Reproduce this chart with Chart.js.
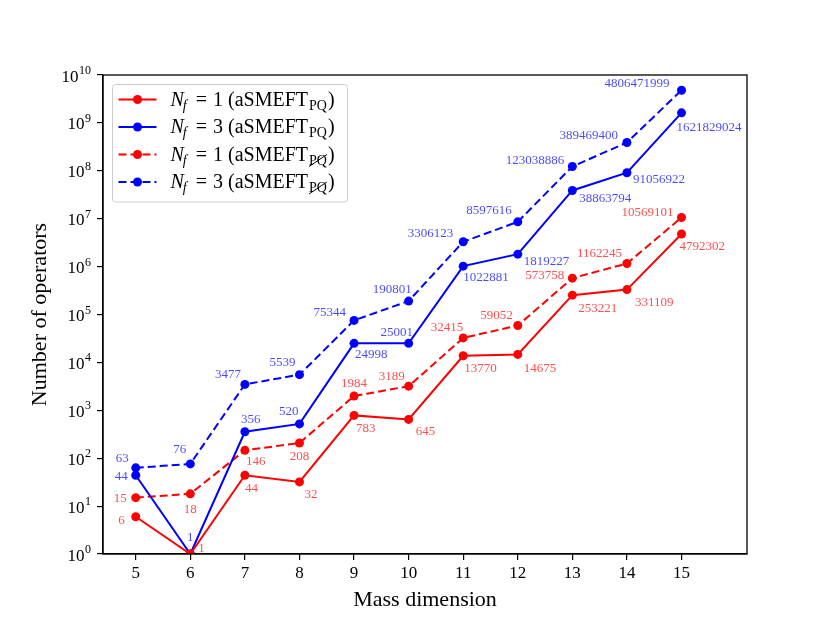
<!DOCTYPE html>
<html>
<head>
<meta charset="utf-8">
<script src="https://cdn.jsdelivr.net/npm/chart.js@4.4.0/dist/chart.umd.min.js"></script>
<style>
  html, body { margin: 0; padding: 0; background: #fff; }
</style>
</head>
<body>
<canvas id="opsChart" width="830" height="623"></canvas>
<script>
// mass dimensions on the x axis
const massDims = [5, 6, 7, 8, 9, 10, 11, 12, 13, 14, 15];
// operator counts per series
const nf1PQ = [6, 1, 44, 32, 783, 645, 13770, 14675, 253221, 331109, 4792302];
const nf3PQ = [44, 1, 356, 520, 24998, 25001, 1022881, 1819227, 38863794, 91056922, 1621829024];
const nf1PQbar = [15, 18, 146, 208, 1984, 3189, 32415, 59052, 573758, 1162245, 10569101];
const nf3PQbar = [63, 76, 3477, 5539, 75344, 190801, 3306123, 8597616, 123038886, 389469400, 4806471999];
// y tick labels are powers of ten
const yPowers = [0, 1, 2, 3, 4, 5, 6, 7, 8, 9, 10];

// where each number label sits relative to its marker: [dx, dy, align]
const placeNf1PQ = [[-11,4,'right'],[8,-5,'left'],[0,13,'left'],[5,13,'left'],[2,13,'left'],[7,12,'left'],
  [1,13,'left'],[6,14,'left'],[6,13,'left'],[8,13,'left'],[-2,13,'left']];
const placeNf3PQ = [[-8,1,'right'],[0,-16,'center'],[-4,-12,'left'],[-1,-12,'right'],[1,11,'left'],[-12,-11,'center'],
  [0,11,'left'],[6,7,'left'],[7,8,'left'],[6,7,'left'],[-5,15,'left']];
const placeNf1PQbar = [[-9,1,'right'],[0,16,'center'],[1,11,'left'],[0,14,'center'],[0,-12,'center'],[-4,-10,'right'],
  [0,-10,'right'],[-5,-10,'right'],[-8,-3,'right'],[-5,-10,'right'],[-8,-5,'right']];
const placeNf3PQbar = [[-7,-9,'right'],[-4,-14,'right'],[-4,-10,'right'],[-4,-12,'right'],[-8,-8,'right'],[3,-11,'right'],
  [-10,-8,'right'],[-6,-11,'right'],[-8,-6,'right'],[-9,-7,'right'],[-12,-7,'right']];

const SERIF = '"Liberation Serif", "DejaVu Serif", serif';
const RED = '#ff0000';
const BLUE = '#0000ff';

function makeSeries(values, color, dashed, nf, slashed, places, labelColor) {
  return {
    data: massDims.map((x, i) => ({ x: x, y: values[i] })),
    borderColor: color,
    backgroundColor: color,
    pointBackgroundColor: color,
    pointBorderColor: color,
    borderWidth: 2,
    borderDash: dashed ? [8, 4] : [],
    pointRadius: 4.5,
    pointBorderWidth: 0,
    tension: 0,
    fill: false,
    nf: nf,
    slashed: slashed,
    places: places,
    labelColor: labelColor
  };
}

// numbers next to every marker
const valueLabels = {
  id: 'valueLabels',
  afterDatasetsDraw(chart) {
    const ctx = chart.ctx;
    ctx.save();
    ctx.font = '13px ' + SERIF;
    ctx.textBaseline = 'middle';
    chart.data.datasets.forEach((ds, di) => {
      const meta = chart.getDatasetMeta(di);
      ctx.fillStyle = ds.labelColor;
      meta.data.forEach((pt, i) => {
        const p = ds.places[i];
        ctx.textAlign = p[2];
        ctx.fillText(String(ds.data[i].y), pt.x + p[0], pt.y + p[1]);
      });
    });
    ctx.restore();
  }
};

// 10^n labels with a raised exponent
const powerLabels = {
  id: 'powerLabels',
  afterDraw(chart) {
    const ctx = chart.ctx;
    const ys = chart.scales.y;
    const right = ys.right - 12;
    ctx.save();
    ctx.fillStyle = '#000';
    ctx.textAlign = 'right';
    ctx.textBaseline = 'alphabetic';
    yPowers.forEach(p => {
      const y = ys.getPixelForValue(Math.pow(10, p));
      ctx.font = '12px ' + SERIF;
      const e = String(p);
      const ew = ctx.measureText(e).width;
      ctx.fillText(e, right, y - 1);
      ctx.font = '17px ' + SERIF;
      ctx.fillText('10', right - ew - 0.5, y + 6.5);
    });
    ctx.restore();
  }
};

// box around the plot area
const frame = {
  id: 'frame',
  afterDatasetsDraw(chart) {
    const a = chart.chartArea;
    const ctx = chart.ctx;
    ctx.save();
    ctx.strokeStyle = '#000';
    ctx.lineWidth = 1.3;
    ctx.strokeRect(a.left, a.top, a.right - a.left, a.bottom - a.top);
    ctx.restore();
  }
};

// legend with N_f and PQ subscripts
function drawLegendText(ctx, x, y, nf, slashed) {
  let cx = x;
  ctx.fillStyle = '#000';
  ctx.textAlign = 'left';
  ctx.textBaseline = 'alphabetic';
  ctx.font = 'italic 20px ' + SERIF;
  ctx.fillText('N', cx, y);
  cx += ctx.measureText('N').width - 1;
  ctx.font = 'italic 14px ' + SERIF;
  ctx.fillText('f', cx, y + 4);
  cx += ctx.measureText('f').width + 9;
  ctx.font = '20px ' + SERIF;
  ctx.fillText('=', cx, y);
  cx += ctx.measureText('=').width + 6;
  ctx.fillText(nf, cx, y);
  cx += ctx.measureText(nf).width + 5;
  ctx.fillText('(aSMEFT', cx, y);
  cx += ctx.measureText('(aSMEFT').width + 1;
  ctx.font = '14px ' + SERIF;
  const subW = ctx.measureText('PQ').width;
  ctx.fillText('PQ', cx, y + 4);
  if (slashed) {
    ctx.beginPath();
    ctx.strokeStyle = '#000';
    ctx.lineWidth = 1;
    ctx.moveTo(cx, y + 6);
    ctx.lineTo(cx + subW, y - 6);
    ctx.stroke();
  }
  cx += subW + 1;
  ctx.font = '20px ' + SERIF;
  ctx.fillText(')', cx, y);
}

const mathLegend = {
  id: 'mathLegend',
  afterDraw(chart) {
    const ctx = chart.ctx;
    const a = chart.chartArea;
    const bx = a.left + 9.5, by = a.top + 9.5, bw = 235, bh = 117.5;
    ctx.save();
    ctx.beginPath();
    ctx.roundRect(bx, by, bw, bh, 3);
    ctx.fillStyle = 'rgba(255,255,255,0.8)';
    ctx.fill();
    ctx.strokeStyle = '#cccccc';
    ctx.lineWidth = 1;
    ctx.stroke();
    chart.data.datasets.forEach((ds, i) => {
      const ry = by + 15 + i * 27.5;
      ctx.beginPath();
      ctx.strokeStyle = ds.borderColor;
      ctx.lineWidth = 2;
      ctx.setLineDash(ds.borderDash);
      ctx.moveTo(bx + 6, ry);
      ctx.lineTo(bx + 44, ry);
      ctx.stroke();
      ctx.setLineDash([]);
      ctx.beginPath();
      ctx.fillStyle = ds.borderColor;
      ctx.arc(bx + 25, ry, 4.5, 0, Math.PI * 2);
      ctx.fill();
      drawLegendText(ctx, bx + 58, ry + 6, ds.nf, ds.slashed);
    });
    ctx.restore();
  }
};

new Chart(document.getElementById('opsChart'), {
  type: 'line',
  data: {
    datasets: [
      makeSeries(nf1PQ, RED, false, '1', false, placeNf1PQ, 'rgba(255,0,0,0.7)'),
      makeSeries(nf3PQ, BLUE, false, '3', false, placeNf3PQ, 'rgba(0,0,255,0.72)'),
      makeSeries(nf1PQbar, RED, true, '1', true, placeNf1PQbar, 'rgba(255,0,0,0.7)'),
      makeSeries(nf3PQbar, BLUE, true, '3', true, placeNf3PQbar, 'rgba(0,0,255,0.72)')
    ]
  },
  options: {
    responsive: false,
    animation: false,
    layout: { padding: { top: 75, right: 83, left: 0, bottom: 0 } },
    plugins: { legend: { display: false }, tooltip: { enabled: false } },
    scales: {
      x: {
        type: 'linear',
        min: 4.4,
        max: 16.2,
        afterBuildTicks: s => { s.ticks = massDims.map(v => ({ value: v })); },
        afterFit: s => { s.height = 69; },
        ticks: { font: { family: SERIF, size: 17 }, color: '#000', padding: 3, maxRotation: 0 },
        grid: { drawOnChartArea: false, drawTicks: true, tickLength: 6, color: '#000', lineWidth: 1.2 },
        border: { display: true, color: '#000', width: 1.3 },
        title: { display: true, text: 'Mass dimension', color: '#000',
                 font: { family: SERIF, size: 22 }, padding: { top: 0, bottom: 10 } }
      },
      y: {
        type: 'logarithmic',
        min: 1,
        max: 1e10,
        afterBuildTicks: s => { s.ticks = yPowers.map(p => ({ value: Math.pow(10, p) })); },
        afterFit: s => { s.width = 103; },
        ticks: { display: false },
        grid: { drawOnChartArea: false, drawTicks: true, tickLength: 6, color: '#000', lineWidth: 1.2 },
        border: { display: true, color: '#000', width: 1.3 },
        title: { display: true, text: 'Number of operators', color: '#000',
                 font: { family: SERIF, size: 22 }, padding: { top: 27, bottom: 0 } }
      }
    }
  },
  plugins: [valueLabels, frame, powerLabels, mathLegend]
});
</script>
</body>
</html>
